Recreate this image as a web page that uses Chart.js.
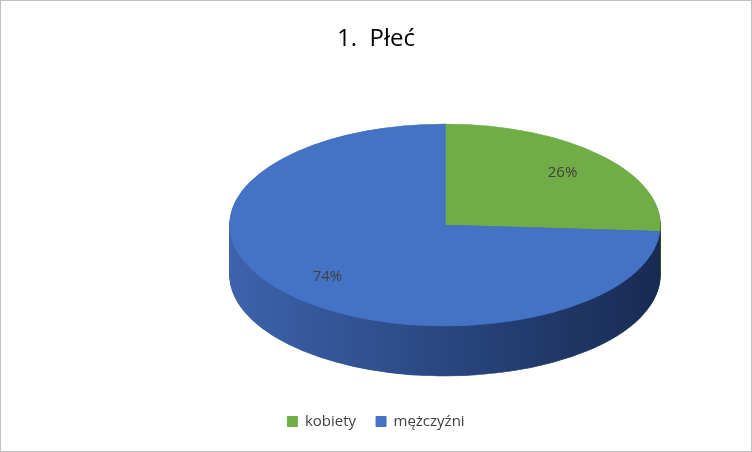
<!DOCTYPE html>
<html>
<head>
<meta charset="utf-8">
<script src="https://cdn.jsdelivr.net/npm/chart.js@4"></script>
<style>
  html, body { margin: 0; padding: 0; background: #fff; }
  #wrap { width: 750px; height: 450px; border: 1px solid #bfbfbf; position: relative; }
</style>
</head>
<body>
<div id="wrap"><canvas id="pie"></canvas></div>
<script>
// * Data
const labels = ["kobiety", "mężczyźni"];
const values = [26, 74];
const colors = ["#70ad47", "#4472c4"];
const sideFrom = ["#5e9a3a", "#3d63ad"];
const sideTo = ["#2e4d1c", "#172a52"];

// * 3D look: squash the pie and draw its side
const TOP_CX = 444, TOP_CY = 224, RX = 215, RY = 101, DEPTH = 50;

const pie3d = {
  id: "pie3d",
  beforeDatasetsDraw(chart) {
    const ctx = chart.ctx;
    const arcs = chart.getDatasetMeta(0).data;
    const a0 = arcs[0];
    const r = a0.outerRadius;

    const place = (dy) => {
      ctx.translate(TOP_CX, TOP_CY + dy);
      ctx.scale(RX / r, RY / r);
      ctx.translate(-a0.x, -a0.y);
    };

    // side walls
    for (let d = DEPTH; d > 0; d--) {
      ctx.save();
      place(d);
      arcs.forEach((arc, i) => {
        const g = ctx.createLinearGradient(a0.x - r, 0, a0.x + r, 0);
        g.addColorStop(0, sideFrom[i]);
        g.addColorStop(1, sideTo[i]);
        const old = arc.options.backgroundColor;
        const oldB = arc.options.borderColor;
        arc.options.backgroundColor = g;
        arc.options.borderColor = g;
        arc.draw(ctx);
        arc.options.backgroundColor = old;
        arc.options.borderColor = oldB;
      });
      ctx.restore();
    }

    // top face
    ctx.save();
    place(0);
    arcs.forEach((arc) => arc.draw(ctx));
    ctx.restore();

    // percentage labels
    ctx.save();
    ctx.font = "15px 'Open Sans', sans-serif";
    ctx.fillStyle = "#404040";
    ctx.textAlign = "center";
    ctx.textBaseline = "middle";
    const total = values.reduce((s, v) => s + v, 0);
    arcs.forEach((arc, i) => {
      const mid = (arc.startAngle + arc.endAngle) / 2;
      const x = TOP_CX + Math.cos(mid) * RX * 0.75;
      const y = TOP_CY + Math.sin(mid) * RY * 0.75;
      ctx.fillText(Math.round(values[i] / total * 100) + "%", x, y);
    });
    ctx.restore();
    return false;
  },
};

var pc = document.getElementById("pie").getContext("2d");

var pieChart = new Chart(pc, {
  type: "pie",
  data: {
    labels: labels,
    datasets: [{
      data: values,
      backgroundColor: colors,
      borderColor: colors,
      borderWidth: 1,
    }],
  },
  options: {
    responsive: true,
    maintainAspectRatio: false,
    animation: false,
    events: [],
    layout: { padding: { top: 0, bottom: 12 } },
    plugins: {
      title: {
        display: true,
        text: "1.  Płeć",
        color: "#000",
        font: { family: "'Open Sans', sans-serif", size: 24, weight: "normal" },
        padding: { top: 24, bottom: 10 },
      },
      legend: {
        position: "bottom",
        labels: {
          color: "#404040",
          boxWidth: 10,
          boxHeight: 10,
          padding: 20,
          font: { family: "'Open Sans', sans-serif", size: 15 },
        },
      },
      tooltip: { enabled: false },
    },
  },
  plugins: [pie3d],
});
</script>
</body>
</html>
